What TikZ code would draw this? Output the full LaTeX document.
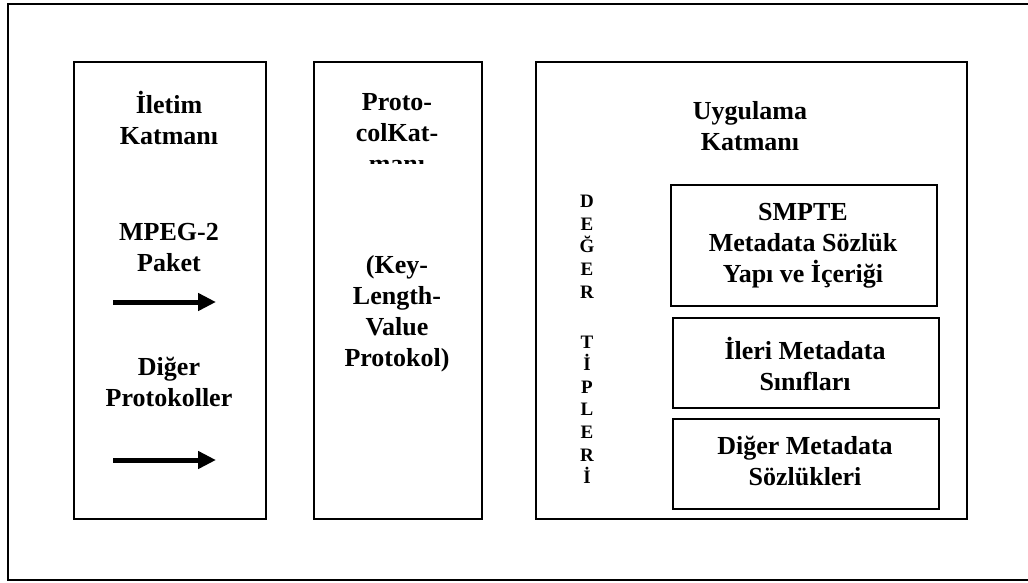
\documentclass[tikz,border=0pt]{standalone}
\usepackage{fontspec}
\setmainfont{Liberation Serif}
\usetikzlibrary{arrows.meta}
\begin{document}
\begin{tikzpicture}[x=1pt,y=-1pt,
  frame/.style={draw,line width=1.6pt,inner sep=0pt,anchor=north west},
  lbl/.style={align=center,font=\fontsize{26}{31}\selectfont\bfseries,inner sep=0pt},
  vlet/.style={align=center,font=\fontsize{19}{22.6}\selectfont\bfseries,inner sep=0pt},
  bigarrow/.style={line width=5pt,-{Triangle[length=18pt,width=17pt]}}]
\useasboundingbox (0,0) rectangle (1028,582);
% outer frame
\node[frame,minimum width=1030pt,minimum height=576pt] (outer) at (7,3) {};
% columns
\node[frame,minimum width=192pt,minimum height=457pt] (left) at (73,61) {};
\node[frame,minimum width=168pt,minimum height=457pt] (mid) at (313,61) {};
\node[frame,minimum width=431pt,minimum height=457pt] (right) at (535,61) {};
% inner boxes
\node[frame,minimum width=266pt,minimum height=121pt] (smpte) at (670,184) {};
\node[frame,minimum width=266pt,minimum height=90pt] (ileri) at (672,317) {};
\node[frame,minimum width=266pt,minimum height=90pt] (diger) at (672,418) {};
% left column texts
\node[lbl] (iletim) at (169,118) {İletim\\Katmanı};
\node[lbl] (mpeg) at (169,248) {MPEG-2\\Paket};
\coordinate (a1s) at (113,302);
\coordinate (a1e) at (216,302);
\draw[bigarrow] (a1s) -- (a1e);
\node[lbl] (diger2) at (169,382) {Diğer\\Protokoller};
\coordinate (a2s) at (113,460);
\coordinate (a2e) at (216,460);
\draw[bigarrow] (a2s) -- (a2e);
% middle column texts
\begin{scope}
\clip (313,61) rectangle (481,163);
\node[lbl,anchor=north] (proto) at (397,93) {Proto-\\colKat-\\manı};
\end{scope}
\node[lbl] (klv) at (397,314) {(Key-\\Length-\\Value\\Protokol)};
% right column texts
\node[lbl] (uyg) at (750,126) {Uygulama\\Katmanı};
\node[vlet,anchor=north] (deger) at (587,195) {D\\E\\Ğ\\E\\R\\[27.5pt]T\\İ\\P\\L\\E\\R\\İ};
\node[lbl] (t1) at (803,246) {SMPTE\\Metadata Sözlük\\Yapı ve İçeriği};
\node[lbl] (t2) at (805,364) {İleri Metadata\\Sınıfları};
\node[lbl] (t3) at (805,461) {Diğer Metadata\\Sözlükleri};
\end{tikzpicture}
\end{document}
